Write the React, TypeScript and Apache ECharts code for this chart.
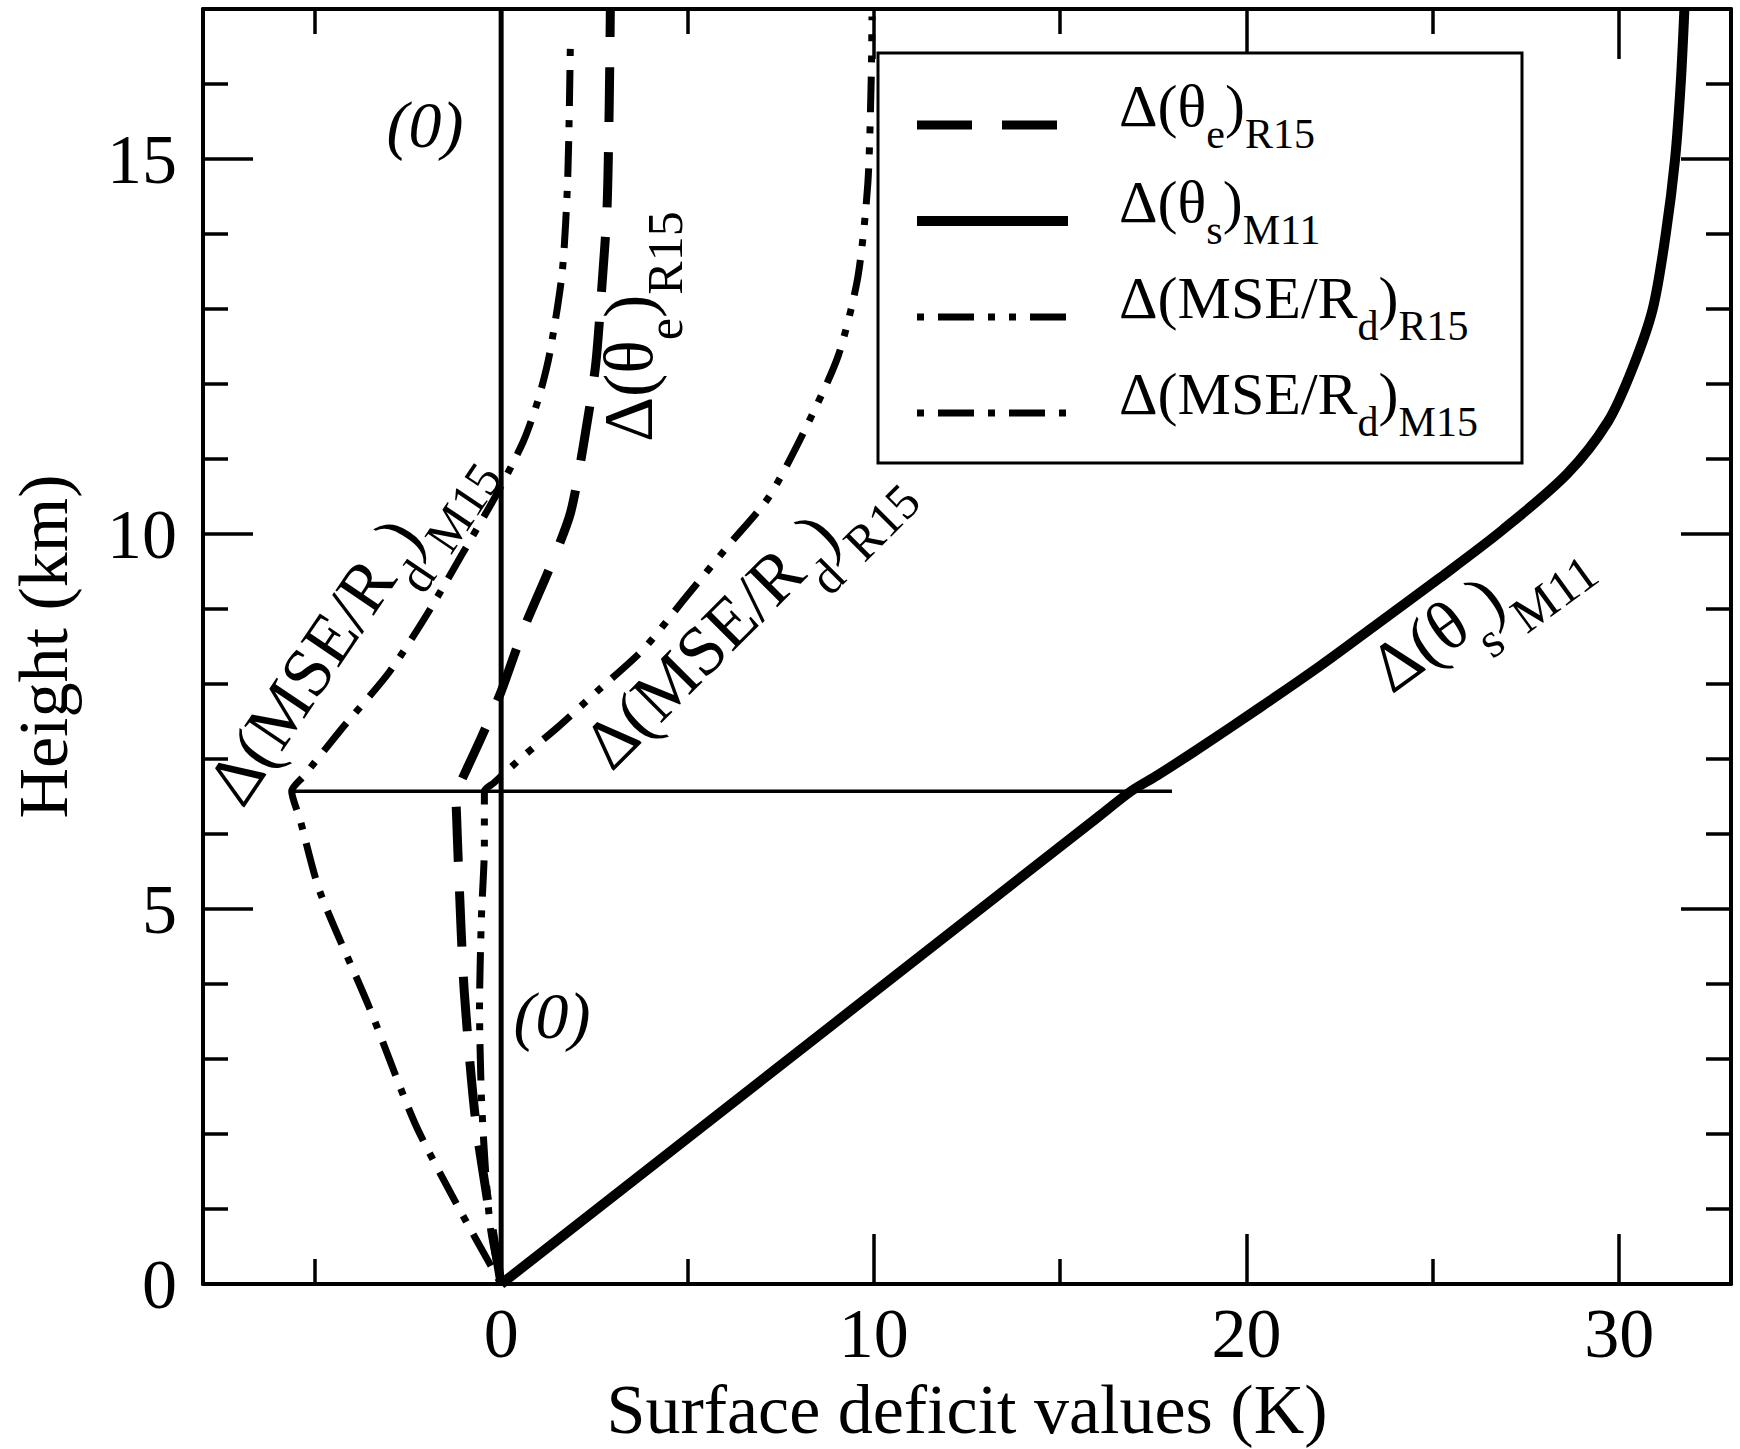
import React, { useEffect, useRef } from 'react';
import * as echarts from 'echarts';

// ---- axes ----
const X_MIN = -8;
const X_MAX = 33;
const Y_MIN = 0;
const Y_MAX = 17;
const xMajorTicks = [0, 10, 20, 30];
const xMinorTicks = [-5, 5, 15, 25];
const yMajorTicks = [0, 5, 10, 15];
const yMinorTicks = [1, 2, 3, 4, 6, 7, 8, 9, 11, 12, 13, 14, 16];
const xTitle = 'Surface deficit values (K)';
const yTitle = 'Height (km)';

// ---- series (x = deficit K, y = height km) ----
const seriesNames = ['Δ(θe)R15', 'Δ(θs)M11', 'Δ(MSE/Rd)R15', 'Δ(MSE/Rd)M15'];

const thetaE_R15 = [
  [0, 0], [-0.33, 1.0], [-0.69, 2.2], [-0.99, 3.9], [-1.14, 5.5], [-1.2, 6.3], [-1.22, 6.55],
  [-1.06, 6.72], [-0.53, 7.29], [0, 7.9], [0.61, 8.74], [1.33, 9.58], [1.86, 10.28], [2.21, 11.19],
  [2.53, 12.23], [2.7, 13.28], [2.84, 14.33], [2.9, 15.72], [2.93, 17.0],
];

const thetaS_M11 = [
  [0, 0], [16.0, 6.22], [16.9, 6.57], [17.6, 6.78], [18.6, 7.1], [20.4, 7.7], [22.0, 8.25],
  [23.4, 8.76], [25.2, 9.42], [26.86, 10.05], [28.6, 10.8], [29.7, 11.5], [30.35, 12.2],
  [30.9, 13.0], [31.25, 14.0], [31.5, 15.0], [31.65, 16.0], [31.75, 17.0],
];

const mse_R15 = [
  [0, 0], [-0.28, 0.72], [-0.43, 1.6], [-0.53, 2.5], [-0.58, 3.69], [-0.53, 4.88],
  [-0.45, 5.84], [-0.45, 6.35], [-0.45, 6.57], [-0.2, 6.68], [0.6, 7.04], [1.51, 7.42],
  [2.57, 7.9], [3.81, 8.46], [4.96, 9.16], [6.12, 9.86], [7.18, 10.49], [8.16, 11.4],
  [9.04, 12.37], [9.57, 13.42], [9.84, 14.68], [9.93, 16.07], [9.95, 16.9],
];

const mse_M15 = [
  [0, 0], [-1.2, 1.07], [-2.32, 2.15], [-3.54, 3.69], [-4.87, 5.24], [-5.4, 6.2], [-5.62, 6.57],
  [-5.3, 6.77], [-4.3, 7.39], [-3.0, 8.16], [-2.0, 8.92], [-1.06, 9.72], [-0.1, 10.55],
  [0.6, 11.24], [1.0, 11.8], [1.3, 12.4], [1.64, 13.5], [1.79, 14.8], [1.86, 16.63],
];

const zeroLine = [[0, 0], [0, 17]];
const levelLine = [[-5.62, 6.57], [18, 6.57]];

// ---- rich label texts ----
const legendTexts = [
  '{m|Δ(θ}{s|e}{m|)}{s|R15}',
  '{m|Δ(θ}{s|s}{m|)}{s|M11}',
  '{m|Δ(MSE/R}{s|d}{m|)}{s|R15}',
  '{m|Δ(MSE/R}{s|d}{m|)}{s|M15}',
];

const FONT = "'Liberation Serif', 'Times New Roman', serif";

function plotLabel(text: string, x: number, y: number, deg: number) {
  return {
    type: 'group',
    x,
    y,
    rotation: (deg * Math.PI) / 180,
    z: 10,
    children: [
      {
        type: 'text',
        x: 0,
        y: 38.2,
        z: 10,
        style: {
          text,
          fill: '#000',
          align: 'left',
          verticalAlign: 'bottom',
          fontFamily: FONT,
          fontSize: 70,
          rich: {
            m: { fontFamily: FONT, fontSize: 70, lineHeight: 70, padding: [0, 0, 27, 0], verticalAlign: 'bottom' },
            s: { fontFamily: FONT, fontSize: 50, lineHeight: 50, verticalAlign: 'bottom' },
          },
        },
      },
    ],
  };
}

function zeroLabel(x: number, y: number) {
  return {
    type: 'text',
    x,
    y,
    z: 10,
    style: {
      text: '(0)',
      fill: '#000',
      align: 'center',
      verticalAlign: 'middle',
      fontFamily: FONT,
      fontSize: 66,
      fontStyle: 'italic',
    },
  };
}

function tickAxis(dim: 'x' | 'y', position: string, values: number[], length: number, showLine: boolean, labels: boolean) {
  const base: any = {
    type: 'value',
    position,
    min: dim === 'x' ? X_MIN : Y_MIN,
    max: dim === 'x' ? X_MAX : Y_MAX,
    splitLine: { show: false },
    axisLine: { show: showLine, onZero: false, lineStyle: { color: '#000', width: 4 } },
    axisTick: {
      show: true,
      inside: true,
      length,
      customValues: values,
      lineStyle: { color: '#000', width: 3.5 },
    },
    axisLabel: labels
      ? {
          show: true,
          customValues: values,
          color: '#000',
          fontFamily: FONT,
          fontSize: 70,
          margin: dim === 'x' ? 14 : 26,
        }
      : { show: false },
  };
  if (labels) {
    base.name = dim === 'x' ? xTitle : yTitle;
    base.nameLocation = 'middle';
    base.nameGap = dim === 'x' ? 90 : 125;
    base.nameTextStyle = { color: '#000', fontFamily: FONT, fontSize: 70 };
  }
  return base;
}

export default function App() {
  const ref = useRef<HTMLDivElement>(null);

  useEffect(() => {
    if (!ref.current) return;
    const chart = echarts.init(ref.current, null, { renderer: 'svg' });

    const lineSeries = (name: string, data: number[][], width: number, type: any, smooth: number) => ({
      name,
      type: 'line',
      data,
      showSymbol: false,
      symbol: 'none',
      smooth,
      xAxisIndex: 0,
      yAxisIndex: 0,
      lineStyle: { color: '#000', width, type, cap: 'butt', join: 'round' },
      itemStyle: { color: '#000' },
      emphasis: { disabled: true },
      z: 3,
    });

    const option: any = {
      animation: false,
      backgroundColor: '#fff',
      grid: { left: 191, right: 9, top: 9, bottom: 165, containLabel: false },
      xAxis: [
        tickAxis('x', 'bottom', xMajorTicks, 50, true, true),
        tickAxis('x', 'bottom', xMinorTicks, 25, false, false),
        tickAxis('x', 'top', xMajorTicks, 50, true, false),
        tickAxis('x', 'top', xMinorTicks, 25, false, false),
      ],
      yAxis: [
        tickAxis('y', 'left', yMajorTicks, 50, true, true),
        tickAxis('y', 'left', yMinorTicks, 25, false, false),
        tickAxis('y', 'right', yMajorTicks, 50, true, false),
        tickAxis('y', 'right', yMinorTicks, 25, false, false),
      ],
      legend: {
        data: seriesNames,
        orient: 'vertical',
        left: 912,
        top: 76,
        padding: 0,
        z: 20,
        itemWidth: 151,
        itemHeight: 14,
        itemGap: 17,
        selectedMode: false,
        itemStyle: { opacity: 0, borderWidth: 0 },
        lineStyle: { width: 'inherit' },
        formatter: (name: string) => legendTexts[seriesNames.indexOf(name)],
        textStyle: {
          color: '#000',
          fontFamily: FONT,
          fontSize: 60,
          padding: [0, 0, 0, 46],
          rich: {
            m: { fontFamily: FONT, fontSize: 60, lineHeight: 60, padding: [0, 0, 19, 0], verticalAlign: 'bottom', color: '#000' },
            s: { fontFamily: FONT, fontSize: 42, lineHeight: 42, verticalAlign: 'bottom', color: '#000' },
          },
        },
      },
      series: [
        lineSeries(seriesNames[0], thetaE_R15, 9, [55, 30], 0.25),
        lineSeries(seriesNames[1], thetaS_M11, 10, 'solid', 0.3),
        lineSeries(seriesNames[2], mse_R15, 7, [7, 14, 36, 14, 7, 14], 0.25),
        lineSeries(seriesNames[3], mse_M15, 7, [7, 14, 36, 14], 0.25),
        lineSeries('zero', zeroLine, 5, 'solid', 0),
        lineSeries('level', levelLine, 3.5, 'solid', 0),
      ],
      graphic: [
        {
          type: 'rect',
          shape: { x: 878, y: 53, width: 644, height: 410 },
          style: { fill: '#fff', stroke: '#000', lineWidth: 3 },
          z: 1,
        },
        plotLabel('{m|Δ(θ}{s|e}{m|)}{s|R15}', 652, 442, 90),
        plotLabel('{m|Δ(θ}{s|s}{m|)}{s|M11}', 1392, 695, 36),
        plotLabel('{m|Δ(MSE/R}{s|d}{m|)}{s|R15}', 612, 773, 45),
        plotLabel('{m|Δ(MSE/R}{s|d}{m|)}{s|M15}', 243, 810, 56),
        zeroLabel(425, 124),
        zeroLabel(552, 1015),
      ],
    };
    chart.setOption(option);
    return () => chart.dispose();
  }, []);

  return (
    <div
      ref={ref}
      style={{ position: 'absolute', left: 0, top: 0, width: 1740, height: 1449, background: '#fff' }}
    />
  );
}
